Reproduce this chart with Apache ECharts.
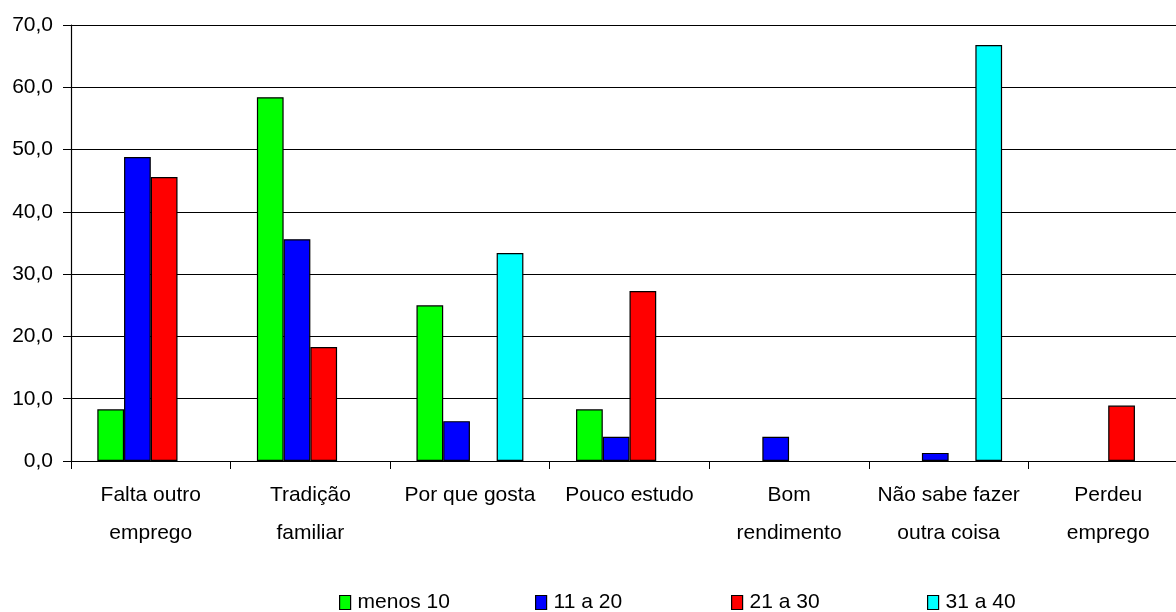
<!DOCTYPE html>
<html>
<head>
<meta charset="utf-8">
<script src="https://cdn.jsdelivr.net/npm/echarts@6/dist/echarts.min.js"></script>
<style>
html,body{margin:0;padding:0;background:#fff;}
#chart{width:1176px;height:612px;}
</style>
</head>
<body>
<div id="chart"></div>
<script>
var categories = ['Falta outro\nemprego', 'Tradição\nfamiliar', 'Por que gosta', 'Pouco estudo', 'Bom\nrendimento', 'Não sabe fazer\noutra coisa', 'Perdeu\nemprego'];
var seriesNames = ['menos 10', '11 a 20', '21 a 30', '31 a 40'];
var menos10 = [8.3, 58.4, 25.0, 8.3, '-', '-', '-'];
var de11a20 = [48.8, 35.6, 6.4, 3.9, 3.9, 1.3, '-'];
var de21a30 = [45.6, 18.3, '-', 27.3, '-', '-', 8.9];
var de31a40 = ['-', '-', 33.4, '-', '-', 66.8, '-'];
var colors = ['#00ff00', '#0000ff', '#ff0000', '#00ffff'];
var yTicks = [0, 10, 20, 30, 40, 50, 60, 70];

var font = '"Liberation Sans", Arial, sans-serif';
var dataSets = [menos10, de11a20, de21a30, de31a40];
var legendLefts = [339, 535, 731, 927];

var chart = echarts.init(document.getElementById('chart'), null, {renderer: 'canvas'});
var option = {
  animation: false,
  backgroundColor: '#fff',
  grid: {left: 71, width: 1117, top: 25, bottom: 151, containLabel: false, outerBoundsMode: 'none'},
  legend: seriesNames.map(function (n, i) {
    return {
      data: [n], left: legendLefts[i], top: 592, itemWidth: 11, itemHeight: 14, itemGap: 4,
      icon: 'rect', padding: 0,
      itemStyle: {borderColor: '#000', borderWidth: 1.2},
      textStyle: {fontFamily: font, fontSize: 21, color: '#000', padding: [0, 0, 0, 2]}
    };
  }),
  xAxis: {
    type: 'category',
    data: categories,
    axisLine: {lineStyle: {color: '#000', width: 1}},
    axisTick: {show: true, length: 8, lineStyle: {color: '#000'}},
    axisLabel: {interval: 0, fontFamily: font, fontSize: 21, color: '#000', lineHeight: 38, margin: 15}
  },
  yAxis: {
    type: 'value', min: 0, max: 70, interval: 10,
    axisLine: {show: true, lineStyle: {color: '#000', width: 1.2}},
    axisTick: {show: true, length: 8, lineStyle: {color: '#000'}},
    splitLine: {show: true, lineStyle: {color: '#000', width: 1.2}},
    axisLabel: {
      fontFamily: font, fontSize: 21, color: '#000', margin: 18,
      formatter: function (v) { return v.toFixed(1).replace('.', ','); }
    }
  },
  series: seriesNames.map(function (n, i) {
    return {
      name: n, type: 'bar', data: dataSets[i],
      barGap: '0%', barCategoryGap: '33%',
      itemStyle: {color: colors[i], borderColor: '#000', borderWidth: 1.2}
    };
  })
};
chart.setOption(option);
</script>
</body>
</html>
